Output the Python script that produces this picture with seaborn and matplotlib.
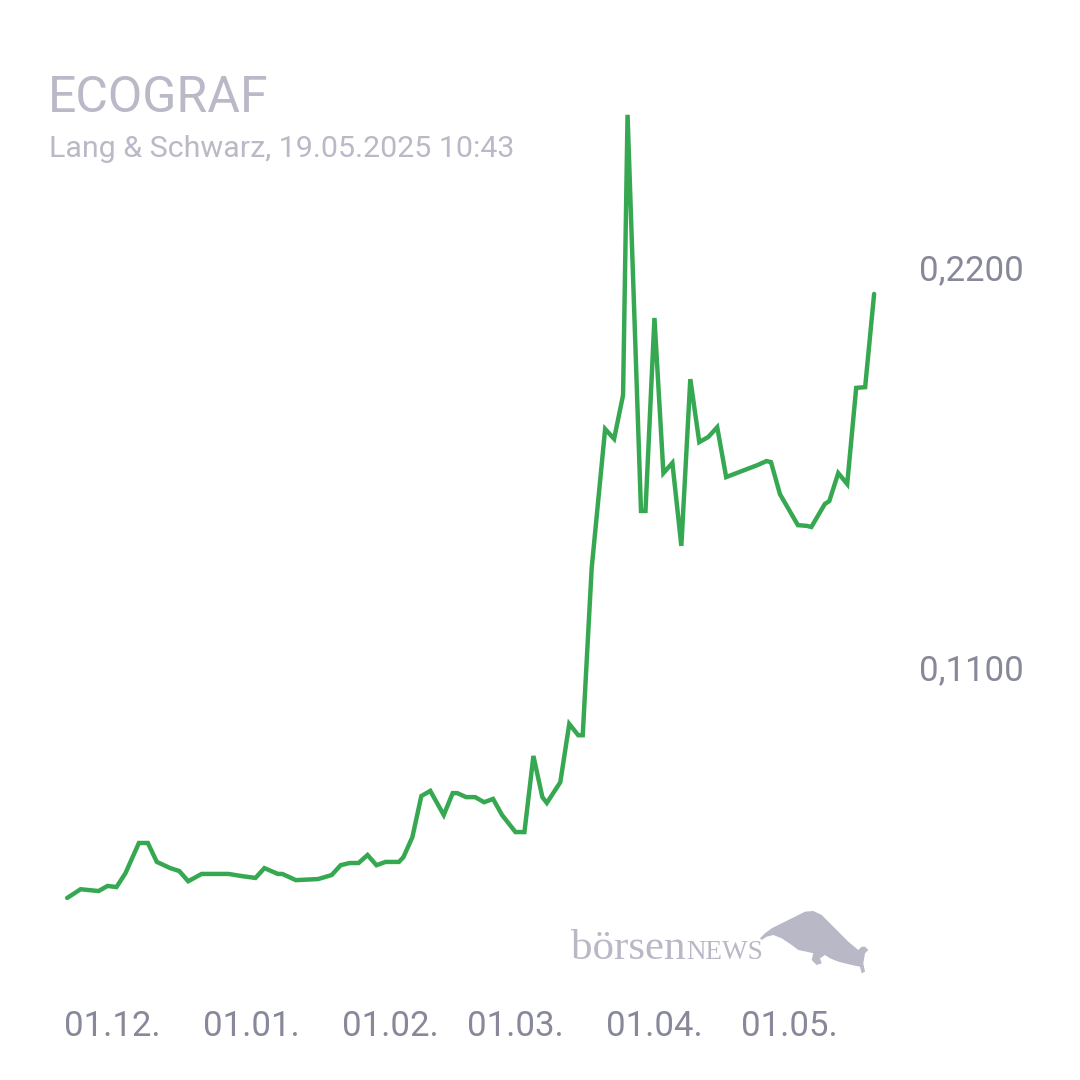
import matplotlib
matplotlib.use("Agg")
import matplotlib.pyplot as plt
import seaborn as sns
import pandas as pd
from matplotlib.patches import Polygon

# ---- data ----
dates = [
    "2024-11-21", "2024-11-24", "2024-11-28", "2024-11-30", "2024-12-02", "2024-12-04",
    "2024-12-07", "2024-12-09", "2024-12-11", "2024-12-14", "2024-12-16", "2024-12-18",
    "2024-12-21", "2024-12-27", "2024-12-30", "2025-01-02", "2025-01-04", "2025-01-07",
    "2025-01-08", "2025-01-11", "2025-01-16", "2025-01-19", "2025-01-21", "2025-01-23",
    "2025-01-25", "2025-01-27", "2025-01-29", "2025-01-31", "2025-02-03", "2025-02-04",
    "2025-02-06", "2025-02-08", "2025-02-10", "2025-02-13", "2025-02-15", "2025-02-16",
    "2025-02-18", "2025-02-20", "2025-02-22", "2025-02-24", "2025-02-26", "2025-03-01",
    "2025-03-03", "2025-03-05", "2025-03-07", "2025-03-08", "2025-03-11", "2025-03-13",
    "2025-03-15", "2025-03-16", "2025-03-18", "2025-03-21", "2025-03-23", "2025-03-25",
    "2025-03-26", "2025-03-29", "2025-03-30", "2025-04-01", "2025-04-03", "2025-04-05",
    "2025-04-07", "2025-04-09", "2025-04-11", "2025-04-13", "2025-04-15", "2025-04-17",
    "2025-04-24", "2025-04-26", "2025-04-27", "2025-04-29", "2025-05-03", "2025-05-05",
    "2025-05-06", "2025-05-09", "2025-05-10", "2025-05-12", "2025-05-14", "2025-05-16",
    "2025-05-18", "2025-05-20",
]
prices = [
    0.0467, 0.0491, 0.0486, 0.0500, 0.0497, 0.0535,
    0.0618, 0.0618, 0.0566, 0.0549, 0.0541, 0.0513,
    0.0533, 0.0533, 0.0527, 0.0522, 0.0549, 0.0533,
    0.0533, 0.0516, 0.0519, 0.0530, 0.0557, 0.0563,
    0.0563, 0.0585, 0.0557, 0.0566, 0.0566, 0.0579,
    0.0634, 0.0747, 0.0761, 0.0695, 0.0755, 0.0755,
    0.0744, 0.0744, 0.0730, 0.0739, 0.0695, 0.0648,
    0.0648, 0.0857, 0.0744, 0.0728, 0.0785, 0.0945,
    0.0914, 0.0914, 0.1373, 0.1755, 0.1728, 0.1848,
    0.2618, 0.1530, 0.1530, 0.2060, 0.1634, 0.1662,
    0.1434, 0.1892, 0.1719, 0.1733, 0.1760, 0.1623,
    0.1656, 0.1667, 0.1664, 0.1576, 0.1491, 0.1489,
    0.1486, 0.1549, 0.1557, 0.1634, 0.1604, 0.1868,
    0.1870, 0.2126,
]
x_tick_dates = ["2024-12-01", "2025-01-01", "2025-02-01", "2025-03-01", "2025-04-01", "2025-05-01"]
x_tick_labels = ["01.12.", "01.01.", "01.02.", "01.03.", "01.04.", "01.05."]
y_ticks = [0.11, 0.22]
y_tick_labels = ["0,1100", "0,2200"]
title = "ECOGRAF"
subtitle = "Lang & Schwarz, 19.05.2025 10:43"

# ---- style ----
sns.set_theme(style="white")
plt.rcParams['font.family'] = ['Roboto', 'DejaVu Sans']

W = H = 1080
fig = plt.figure(figsize=(10.8, 10.8), dpi=100)
fig.patch.set_facecolor("white")

L, R, T, B = 40, 900, 80, 960
ax = fig.add_axes([L / W, 1 - B / H, (R - L) / W, (B - T) / H])
ax.set_facecolor("none")

df = pd.DataFrame({"date": pd.to_datetime(dates), "price": prices})
sns.lineplot(data=df, x="date", y="price", ax=ax, color="#37a852",
             linewidth=3.2, solid_joinstyle="miter")

# axis scaling (pixel calibration of the reference)
ref = pd.Timestamp("2024-12-01")
px_per_day = 4.483
ax.set_xlim(ref + pd.Timedelta(days=(L - 112) / px_per_day),
            ref + pd.Timedelta(days=(R - 112) / px_per_day))
v_per_px = 0.11 / 400.5
ax.set_ylim(0.22 - (B - 267) * v_per_px, 0.22 + (267 - T) * v_per_px)

ax.set_xticks(pd.to_datetime(x_tick_dates))
ax.set_xticklabels(x_tick_labels)
ax.set_yticks(y_ticks)
ax.set_yticklabels(y_tick_labels)
ax.yaxis.tick_right()
tick_col = "#878899"
ax.tick_params(axis="x", length=0, pad=36, labelsize=25, labelcolor=tick_col)
ax.tick_params(axis="y", length=0, pad=14, labelsize=25, labelcolor=tick_col)
ax.set_xlabel("")
ax.set_ylabel("")
for s in ax.spines.values():
    s.set_visible(False)
ax.grid(False)

# ---- titles ----
txt_col = "#b9b9c7"
fig.text(48 / W, 1 - 112 / H, title, fontsize=36, color=txt_col,
         ha="left", va="baseline")
fig.text(49 / W, 1 - 157 / H, subtitle, fontsize=21.9, color=txt_col,
         ha="left", va="baseline")

# ---- watermark ----
wm_col = "#b8b8c6"
serif = ["Liberation Serif", "DejaVu Serif"]
t1 = fig.text(571 / W, 1 - 959 / H, "börsen", fontsize=31, color=wm_col,
              family=serif, ha="left", va="baseline")
fig.canvas.draw()
bb = t1.get_window_extent(renderer=fig.canvas.get_renderer())
fig.text(bb.x1 / W + 1 / W, 1 - 959 / H, "NEWS", fontsize=19.5, color=wm_col,
         family=serif, ha="left", va="baseline")
bull_px = [(760, 938.3), (765, 933.3), (771.7, 928.3), (781.7, 923.3), (795, 916.7),
           (805, 911.7), (813.3, 911), (821.7, 915), (835, 928.3), (848.3, 941.7),
           (858.3, 950), (861.7, 946.7), (865, 946.7), (868.3, 950), (865, 953.3),
           (863.3, 963.3), (865, 971.7), (861.7, 973.3), (860, 966.7), (851.7, 965),
           (838.3, 961.7), (830, 958.3), (825, 955), (820, 958.3), (821.7, 963.3),
           (816.7, 965), (811.7, 960), (813.3, 953.3), (806.7, 951.7), (798.3, 950),
           (791.7, 945), (781.7, 938.3), (773.3, 935), (766.7, 936.7), (761.7, 940)]
bull = Polygon([(x / W, 1 - y / H) for x, y in bull_px], closed=True,
               transform=fig.transFigure, facecolor=wm_col, edgecolor="none")
fig.patches.append(bull)

fig.savefig("out.png", dpi=100, facecolor="white")
